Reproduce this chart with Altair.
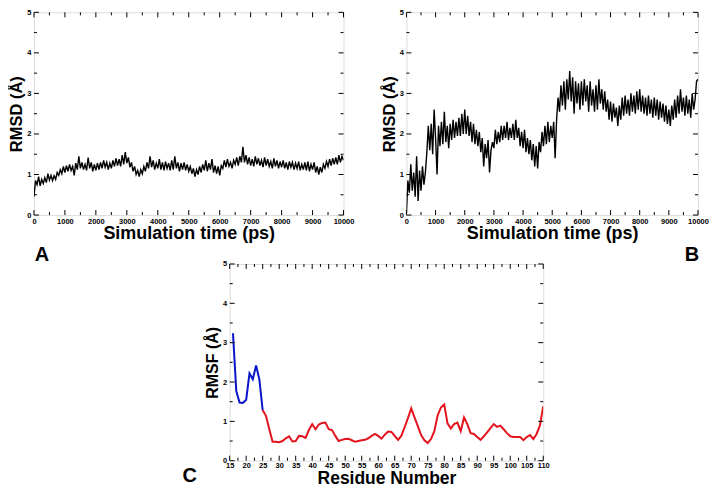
import altair as alt
import pandas as pd

# ---------------- data ----------------
A_RMSD = [
    0.45, 0.85, 0.75, 0.95, 0.72, 0.88, 0.78, 0.92, 0.80, 1.02, 0.86, 0.98, 0.85, 0.97, 0.88, 1.05, 0.98, 1.12, 1.02, 1.20,
    1.05, 1.22, 1.08, 1.25, 1.10, 1.20, 0.98, 1.28, 1.12, 1.45, 1.15, 1.30, 1.12, 1.25, 1.10, 1.42, 1.15, 1.30, 1.08, 1.25,
    1.10, 1.28, 1.12, 1.30, 1.15, 1.35, 1.18, 1.30, 1.12, 1.28, 1.15, 1.35, 1.20, 1.40, 1.22, 1.38, 1.20, 1.48, 1.25, 1.55,
    1.28, 1.42, 1.18, 1.30, 1.08, 1.20, 1.00, 1.10, 0.95, 1.12, 1.02, 1.20, 1.08, 1.30, 1.15, 1.45, 1.18, 1.35, 1.12, 1.28,
    1.15, 1.38, 1.12, 1.30, 1.10, 1.32, 1.15, 1.28, 1.10, 1.35, 1.12, 1.45, 1.15, 1.30, 1.08, 1.28, 1.12, 1.30, 1.10, 1.25,
    1.08, 1.20, 1.02, 1.15, 0.95, 1.12, 1.00, 1.20, 1.05, 1.25, 1.10, 1.35, 1.08, 1.28, 1.12, 1.38, 1.05, 1.22, 1.02, 1.20,
    0.98, 1.22, 1.15, 1.35, 1.18, 1.38, 1.20, 1.30, 1.15, 1.35, 1.25, 1.42, 1.22, 1.45, 1.30, 1.68, 1.30, 1.48, 1.25, 1.42,
    1.22, 1.38, 1.20, 1.45, 1.25, 1.40, 1.22, 1.35, 1.18, 1.42, 1.22, 1.38, 1.20, 1.32, 1.15, 1.40, 1.20, 1.35, 1.15, 1.32,
    1.18, 1.35, 1.15, 1.30, 1.12, 1.32, 1.18, 1.30, 1.12, 1.28, 1.15, 1.32, 1.10, 1.25, 1.12, 1.30, 1.10, 1.32, 1.08, 1.25,
    1.12, 1.30, 1.05, 1.20, 1.00, 1.18, 1.05, 1.25, 1.15, 1.32, 1.20, 1.38, 1.22, 1.40, 1.25, 1.42, 1.25, 1.48, 1.30, 1.45,
    1.35,
]

B_RMSD = [
    0.05, 0.85, 0.55, 1.25, 0.60, 1.05, 0.45, 1.45, 0.35, 1.10, 0.60, 1.20, 0.75, 1.05, 1.55, 2.20, 1.60, 2.25, 1.50, 2.60,
    1.90, 1.00, 2.20, 1.70, 2.30, 1.75, 2.55, 1.80, 2.20, 1.65, 2.25, 1.85, 2.35, 1.90, 2.30, 1.95, 2.40, 1.95, 2.50, 2.00,
    2.60, 2.00, 2.45, 1.95, 2.30, 1.80, 2.25, 1.75, 2.10, 1.70, 2.05, 1.55, 1.90, 1.20, 1.75, 1.40, 1.85, 1.05, 1.60, 1.80,
    1.65, 2.10, 1.75, 2.05, 1.80, 2.20, 1.85, 2.20, 1.90, 2.30, 1.85, 2.15, 1.90, 2.25, 1.85, 2.35, 1.90, 2.15, 1.70, 2.05,
    1.65, 2.10, 1.55, 1.90, 1.50, 1.85, 1.35, 1.75, 1.20, 1.70, 1.15, 1.80, 1.55, 2.05, 1.70, 2.20, 1.75, 2.30, 1.80, 2.20,
    1.90, 2.30, 1.40, 2.35, 2.90, 2.55, 3.20, 2.70, 3.30, 2.60, 3.35, 2.85, 3.55, 2.80, 3.40, 2.50, 3.30, 2.75, 3.25, 2.60,
    3.30, 2.70, 3.35, 2.80, 3.20, 2.55, 3.30, 2.70, 3.10, 2.55, 3.20, 2.60, 3.35, 2.75, 3.10, 2.60, 3.05, 2.55, 2.85, 2.35,
    2.80, 2.30, 2.75, 2.40, 2.65, 2.20, 2.70, 2.35, 2.90, 2.45, 2.95, 2.50, 2.85, 2.45, 3.00, 2.55, 2.95, 2.50, 3.05, 2.60,
    3.10, 2.55, 2.95, 2.50, 2.90, 2.45, 2.95, 2.50, 2.85, 2.40, 2.90, 2.45, 2.85, 2.35, 2.80, 2.40, 2.75, 2.30, 2.70, 2.25,
    2.60, 2.20, 2.70, 2.35, 2.85, 2.40, 2.95, 2.50, 3.10, 2.55, 2.90, 2.45, 2.95, 2.50, 2.85, 2.40, 3.00, 2.60, 2.85, 3.30,
    3.35,
]

TIME_STEP = 50  # ps between frames

C_BLUE_RES = [16, 17, 18, 19, 20, 21, 22, 23, 24, 25]
C_BLUE_RMSF = [3.24, 1.77, 1.48, 1.47, 1.55, 2.22, 2.07, 2.42, 2.06, 1.28]

C_RED_RES = list(range(25, 111))
C_RED_RMSF = [
    1.28, 1.14, 0.80, 0.48, 0.48, 0.47, 0.50, 0.57, 0.62, 0.49,
    0.50, 0.63, 0.62, 0.58, 0.78, 0.93, 0.80, 0.92, 0.96, 0.97,
    0.80, 0.78, 0.63, 0.50, 0.53, 0.55, 0.56, 0.52, 0.48, 0.50,
    0.52, 0.53, 0.57, 0.63, 0.68, 0.63, 0.56, 0.66, 0.74, 0.73,
    0.63, 0.53, 0.63, 0.85, 1.08, 1.33, 1.10, 0.88, 0.65, 0.52,
    0.45, 0.55, 0.75, 1.15, 1.35, 1.43, 0.95, 0.82, 0.93, 0.97,
    0.75, 1.10, 0.93, 0.70, 0.68, 0.60, 0.53, 0.62, 0.72, 0.83,
    0.93, 0.86, 0.89, 0.80, 0.70, 0.62, 0.60, 0.60, 0.60, 0.52,
    0.60, 0.65, 0.55, 0.68, 0.90, 1.38,
]

T_MAJOR = [0, 1000, 2000, 3000, 4000, 5000, 6000, 7000, 8000, 9000, 10000]
T_MINOR = [500, 1500, 2500, 3500, 4500, 5500, 6500, 7500, 8500, 9500]
Y_MAJOR = [0, 1, 2, 3, 4, 5]
Y_MINOR = [0.5, 1.5, 2.5, 3.5, 4.5]
R_MAJOR = [15, 20, 25, 30, 35, 40, 45, 50, 55, 60, 65, 70, 75, 80, 85, 90, 95, 100, 105, 110]
R_MINOR = [17.5, 22.5, 27.5, 32.5, 37.5, 42.5, 47.5, 52.5, 57.5, 62.5, 67.5, 72.5, 77.5, 82.5,
           87.5, 92.5, 97.5, 102.5, 107.5]

PANEL_LABELS = ["A", "B", "C"]

FONT = "Liberation Sans"


def axis(values, title, title_size, label_pad=3, title_pad=2):
    return alt.Axis(values=values, ticks=False, domain=False, grid=False,
                    labelFont=FONT, labelFontWeight="bold", labelFontSize=7.5,
                    labelColor="black", labelPadding=label_pad, labelFlush=False,
                    labelOverlap=False, format="d",
                    title=title, titleFont=FONT, titleFontWeight="bold",
                    titleFontSize=title_size, titleColor="black", titlePadding=title_pad)


def tick_layers(xmaj, xmin, ymaj, ymin, xfield, yfield, xscale, yscale, xaxis, yaxis, W, H):
    layers = []
    for vals, ln in ((xmaj, 5), (xmin, 3)):
        base = alt.Chart(pd.DataFrame({xfield: vals})).mark_rule(color="black", strokeWidth=1)
        xx = alt.X(f"{xfield}:Q", scale=xscale, axis=xaxis)
        layers.append(base.encode(x=xx, y=alt.value(H), y2=alt.value(H - ln)))
        layers.append(base.encode(x=xx, y=alt.value(0), y2=alt.value(ln)))
    for vals, ln in ((ymaj, 5), (ymin, 3)):
        base = alt.Chart(pd.DataFrame({yfield: vals})).mark_rule(color="black", strokeWidth=1)
        yy = alt.Y(f"{yfield}:Q", scale=yscale, axis=yaxis)
        layers.append(base.encode(y=yy, x=alt.value(0), x2=alt.value(ln)))
        layers.append(base.encode(y=yy, x=alt.value(W), x2=alt.value(W - ln)))
    return layers


def letter(txt, px, py):
    return alt.Chart(pd.DataFrame({"lab": [txt]})).mark_text(
        font=FONT, fontWeight="bold", fontSize=20, color="black",
        align="center", baseline="alphabetic").encode(
        text="lab:N", x=alt.value(px), y=alt.value(py))


def rmsd_panel(vals, W, H):
    df = pd.DataFrame({"t": [i * TIME_STEP for i in range(len(vals))], "r": vals})
    xs = alt.Scale(domain=[0, 10000], nice=False, zero=False)
    ys = alt.Scale(domain=[0, 5], nice=False)
    xa = axis(T_MAJOR, "Simulation time (ps)", 18, label_pad=2, title_pad=0)
    ya = axis(Y_MAJOR, "RMSD (Å)", 16.5)
    line = alt.Chart(df).mark_line(color="black", strokeWidth=1.4, clip=True).encode(
        x=alt.X("t:Q", scale=xs, axis=xa),
        y=alt.Y("r:Q", scale=ys, axis=ya),
    )
    layers = [line] + tick_layers(T_MAJOR, T_MINOR, Y_MAJOR, Y_MINOR, "t", "r", xs, ys, xa, ya, W, H)
    return alt.layer(*layers).properties(width=W, height=H)


A = rmsd_panel(A_RMSD, 310, 203)
B = rmsd_panel(B_RMSD, 292, 203)

# panel C
dfc = pd.DataFrame({
    "res": C_BLUE_RES + C_RED_RES,
    "rmsf": C_BLUE_RMSF + C_RED_RMSF,
    "seg": ["blue"] * len(C_BLUE_RES) + ["red"] * len(C_RED_RES),
})
cxs = alt.Scale(domain=[15, 110], nice=False, zero=False)
cys = alt.Scale(domain=[0, 5], nice=False)
cxa = axis(R_MAJOR, "Residue Number", 17.5, label_pad=1, title_pad=0)
cya = axis(Y_MAJOR, "RMSF (Å)", 16)
CW, CH = 314, 197
cline = alt.Chart(dfc).mark_line(strokeWidth=2, clip=True).encode(
    x=alt.X("res:Q", scale=cxs, axis=cxa),
    y=alt.Y("rmsf:Q", scale=cys, axis=cya),
    color=alt.Color("seg:N", scale=alt.Scale(domain=["blue", "red"], range=["#0a14c8", "#e3141e"]), legend=None),
    order="res:Q",
)
C = alt.layer(*([cline]
                + tick_layers(R_MAJOR, R_MINOR, Y_MAJOR, Y_MINOR, "res", "rmsf", cxs, cys, cxa, cya, CW, CH)
                + [letter(PANEL_LABELS[0], -188, -3),
                   letter(PANEL_LABELS[1], 463, -3),
                   letter(PANEL_LABELS[2], -40, 218)])
              ).properties(width=CW, height=CH)

spacer = alt.Chart(pd.DataFrame({"s": [""]})).mark_text().encode(
    text="s:N", x=alt.value(0), y=alt.value(0)
).properties(width=1, height=CH, view=alt.ViewBackground(stroke="transparent"))

top = alt.hconcat(A, B, spacing=26)
bottom = alt.hconcat(spacer, C, spacing=-2)
chart = alt.vconcat(top, bottom, spacing=1).properties(
    padding={"left": 0, "top": -1, "right": 0, "bottom": 0}
).configure_view(stroke="#808080", strokeWidth=1).configure_axis(
    labelOverlap=False
).configure(background="white")

chart.save("out.html", embed_options={"renderer": "svg", "actions": False})
